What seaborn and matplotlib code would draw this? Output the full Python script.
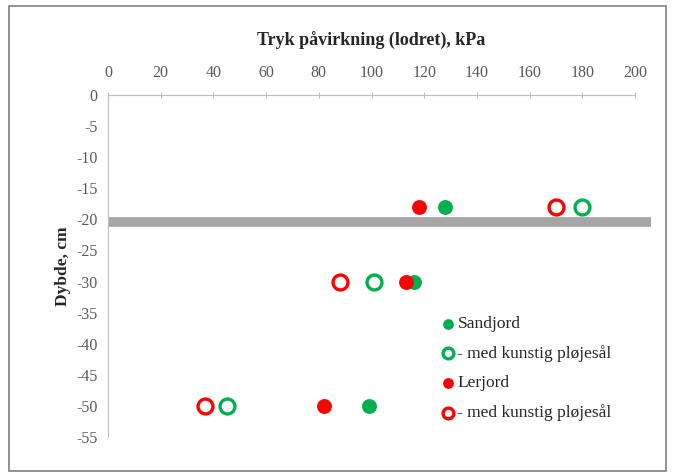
import matplotlib.pyplot as plt
import pandas as pd
import seaborn as sns
from matplotlib.patches import Rectangle

# data
depth = [-18, -30, -50]
sand = [128, 116, 99]
sand_pan = [180, 101, 45]
clay = [118, 113, 82]
clay_pan = [170, 88, 37]
pan_depth = -20.5
pan_extent = [0, 206]

series = [
    ('Sandjord', sand, '#00b050', True),
    ('- med kunstig pl\u00f8jes\u00e5l', sand_pan, '#00b050', False),
    ('Lerjord', clay, '#ff0000', True),
    ('- med kunstig pl\u00f8jes\u00e5l ', clay_pan, '#ff0000', False),
]


def main():
    sns.set_style('white')
    plt.rcParams['font.family'] = ['Liberation Serif', 'DejaVu Serif']
    plt.rcParams['axes.unicode_minus'] = False

    fig = plt.figure(figsize=(6.77, 4.75), dpi=100)
    ax = fig.add_axes([108 / 677, 38 / 475, 527 / 677, 342 / 475])

    ax.plot(pan_extent, [pan_depth, pan_depth], color='#a6a6a6', lw=7,
            solid_capstyle='butt', clip_on=False, zorder=1)

    for label, vals, color, filled in series:
        df = pd.DataFrame({'kpa': vals, 'depth': depth})
        sns.scatterplot(
            x='kpa', y='depth', data=df, ax=ax, s=115, zorder=3,
            color=color if filled else 'white',
            edgecolor=color, linewidth=0 if filled else 2.4,
            label=label, clip_on=False,
        )

    ax.set_xlim(0, 200)
    ax.set_ylim(-55, 0)
    ax.set_xticks(range(0, 201, 20))
    ax.set_yticks(range(-55, 1, 5))
    ax.xaxis.tick_top()
    ax.xaxis.set_label_position('top')
    ax.set_xlabel('Tryk p\u00e5virkning (lodret), kPa', fontsize=13,
                  fontweight='bold', labelpad=14)
    ax.set_ylabel('Dybde, cm', fontsize=12.5, fontweight='bold', labelpad=4)
    ax.tick_params(axis='both', labelsize=11.5, labelcolor='#595959',
                   color='#bfbfbf', length=4, width=0.8)
    ax.tick_params(axis='x', direction='inout', pad=8)
    ax.tick_params(axis='y', direction='out')

    for side in ['right', 'bottom']:
        ax.spines[side].set_visible(False)
    for side in ['left', 'top']:
        ax.spines[side].set_color('#bfbfbf')
        ax.spines[side].set_linewidth(0.8)

    leg = ax.legend(loc='upper left', bbox_to_anchor=(326 / 527, 1 - 214 / 342),
                    frameon=False, fontsize=12.5, handletextpad=0.15,
                    handlelength=0.8, labelspacing=0.75, borderaxespad=0)
    for h in leg.legend_handles:
        h.set_sizes([60])

    fig.patches.append(Rectangle((9 / 677, 4 / 475), 657 / 677, 465 / 475,
                                 transform=fig.transFigure, fill=False,
                                 edgecolor='#7f7f7f', lw=1.2))
    plt.savefig('out.png', dpi=100)
    plt.close(fig)


if __name__ == '__main__':
    main()
